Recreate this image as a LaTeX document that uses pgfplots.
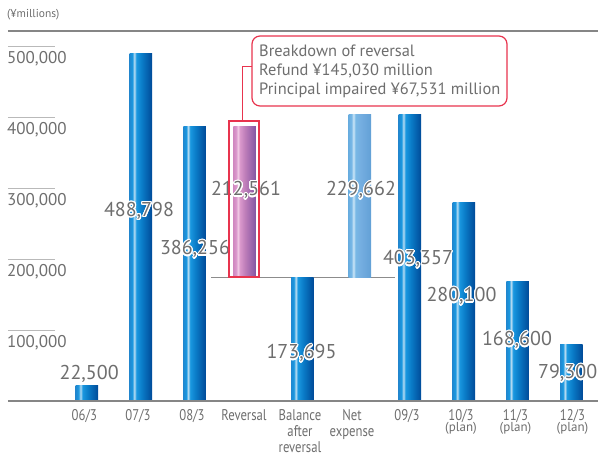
\documentclass[border=0pt]{standalone}
\usepackage{pgfplots}
\pgfplotsset{compat=1.18}
\usepackage{fontspec}
\setmainfont{PT Sans}
\newfontfamily\condfont[FakeStretch=0.82]{PT Sans}
\usepackage[copies]{contour}
\contourlength{1.2pt}
\contournumber{20}

\definecolor{txt}{HTML}{6E6E6E}
\definecolor{redc}{HTML}{E8344E}
\definecolor{bA}{HTML}{2088D0}
\definecolor{bB}{HTML}{1A98E0}
\definecolor{bH}{HTML}{B8DCF2}
\definecolor{bC}{HTML}{0A7CC8}
\definecolor{bD}{HTML}{004A98}
\definecolor{pA}{HTML}{D088C0}
\definecolor{pB}{HTML}{DA98CC}
\definecolor{pH}{HTML}{F0C8E4}
\definecolor{pC}{HTML}{BC7CB8}
\definecolor{pD}{HTML}{8454A4}
\definecolor{lA}{HTML}{6AAEE0}
\definecolor{lB}{HTML}{78B8E6}
\definecolor{lH}{HTML}{CCE6F6}
\definecolor{lC}{HTML}{74ADE0}
\definecolor{lD}{HTML}{62A0D6}

\pgfdeclarehorizontalshading{bluebar}{100bp}{color(0bp)=(bA); color(25bp)=(bA); color(31bp)=(bB); color(35.5bp)=(bH); color(40bp)=(bB); color(52bp)=(bC); color(75bp)=(bD); color(100bp)=(bD)}
\pgfdeclarehorizontalshading{pinkbar}{100bp}{color(0bp)=(pA); color(25bp)=(pA); color(31bp)=(pB); color(35.5bp)=(pH); color(40bp)=(pB); color(52bp)=(pC); color(75bp)=(pD); color(100bp)=(pD)}
\pgfdeclarehorizontalshading{lightbar}{100bp}{color(0bp)=(lA); color(25bp)=(lA); color(31bp)=(lB); color(35.5bp)=(lH); color(40bp)=(lB); color(52bp)=(lC); color(75bp)=(lD); color(100bp)=(lD)}

\pgfplotsset{bluebarstyle/.style={ybar, bar width=22.5pt, draw=none, shade, shading=bluebar}}

\begin{document}
\begin{tikzpicture}
\useasboundingbox (-8pt,-67pt) rectangle (590pt,401pt);
\begin{axis}[
  scale only axis, width=590pt, height=370pt,
  xmin=-1.4676, xmax=9.493, ymin=0, ymax=521127,
  axis line style={draw=none},
  clip=false,
  scaled y ticks=false, scaled x ticks=false,
  xtick={-0.05,0.947,1.95,2.917,3.957,4.923,5.945,6.948,7.96,9.02},
  xticklabels={06/3,07/3,08/3,Reversal,Balance\\after\\reversal,Net\\expense,09/3,
    10/3\\[-4.5pt]{\rmfamily\fontsize{13}{13}\selectfont(plan)},
    11/3\\[-4.5pt]{\rmfamily\fontsize{13}{13}\selectfont(plan)},
    12/3\\[-4.5pt]{\rmfamily\fontsize{13}{13}\selectfont(plan)}},
  xtick style={draw=none},
  xtick pos=bottom,
  xticklabel style={anchor=north, inner sep=0pt, yshift=-8.5pt, align=center,
    font=\condfont\fontsize{15.5}{15.7}\selectfont, text=txt},
  ytick={100000,200000,300000,400000,500000},
  yticklabels={{100,000},{200,000},{300,000},{400,000},{500,000}},
  ytick pos=left,
  tick align=inside,
  major tick length=47pt,
  ytick style={draw=gray!55, line width=0.9pt},
  yticklabel style={anchor=north west, inner sep=0pt, xshift=-1pt, yshift=-5pt,
    font=\fontsize{17}{17}\selectfont, text=txt},
]
% reference line at the balance after reversal
\draw[gray!90, line width=0.8pt] (axis cs:2.304,173695) -- (axis cs:5.722,173695);

% regular bars, one plot per bar so that each bar gets its own shading
\addplot[bluebarstyle] coordinates {(0,22500)};
\addplot[bluebarstyle] coordinates {(1,488798)};
\addplot[bluebarstyle] coordinates {(2,386256)};
\addplot[bluebarstyle] coordinates {(4,173695)};
\addplot[bluebarstyle] coordinates {(6,403357)};
\addplot[bluebarstyle] coordinates {(7,280100)};
\addplot[bluebarstyle] coordinates {(8,168600)};
\addplot[bluebarstyle] coordinates {(9,79300)};
% reversal (floating)
\addplot[draw=none, shade, shading=pinkbar] coordinates {
  (2.717,173695) (3.135,173695) (3.135,386256) (2.717,386256)} -- cycle;
% net expense (floating)
\addplot[draw=none, shade, shading=lightbar] coordinates {
  (4.862,173695) (5.280,173695) (5.280,403357) (4.862,403357)} -- cycle;

% axis lines
\draw[gray!95, line width=1.2pt] (rel axis cs:0,0) -- (rel axis cs:1,0);
\draw[gray!95, line width=1.2pt] (rel axis cs:0,1) -- (rel axis cs:1,1);

% value labels
\begin{scope}[every node/.style={anchor=base, inner sep=0pt, font=\fontsize{20}{20}\selectfont, text=txt}]
\node at (axis cs:0.04,29577) {\contour{white}{22,500}};
\node at (axis cs:0.966,259577) {\contour{white}{488,798}};
\node at (axis cs:2.006,205634) {\contour{white}{386,256}};
\node at (axis cs:2.954,288732) {\contour{white}{212,561}};
\node at (axis cs:3.985,59155) {\contour{white}{173,695}};
\node at (axis cs:5.090,288732) {\contour{white}{229,662}};
\node at (axis cs:6.149,191549) {\contour{white}{403,357}};
\node at (axis cs:6.957,139437) {\contour{white}{280,100}};
\node at (axis cs:7.988,77465) {\contour{white}{168,600}};
\node at (axis cs:8.93,30986) {\contour{white}{79,300}};
\end{scope}
\end{axis}

% decorations in pixel coordinates of the reference
\begin{scope}[x=1pt, y=-1pt, shift={(-8pt,401pt)}]
\node[anchor=north west, inner sep=0pt, font=\fontsize{11.5}{12}\selectfont, text=txt] at (7,9.5) {(¥millions)};
\draw[redc, line width=1.1pt] (229,121) rectangle (259,277);
\draw[redc, line width=1pt] (242,121) -- (242,67) -- (252,67);
\draw[redc, line width=1.2pt, rounded corners=8pt, fill=white] (252,36) rectangle (507,106);
\node[anchor=north west, align=left, inner sep=0pt, font=\fontsize{16.4}{19}\selectfont, text=txt] at (259,44.5)
  {Breakdown of reversal\\Refund ¥145,030 million\\Principal impaired ¥67,531 million};
\end{scope}
\end{tikzpicture}
\end{document}
